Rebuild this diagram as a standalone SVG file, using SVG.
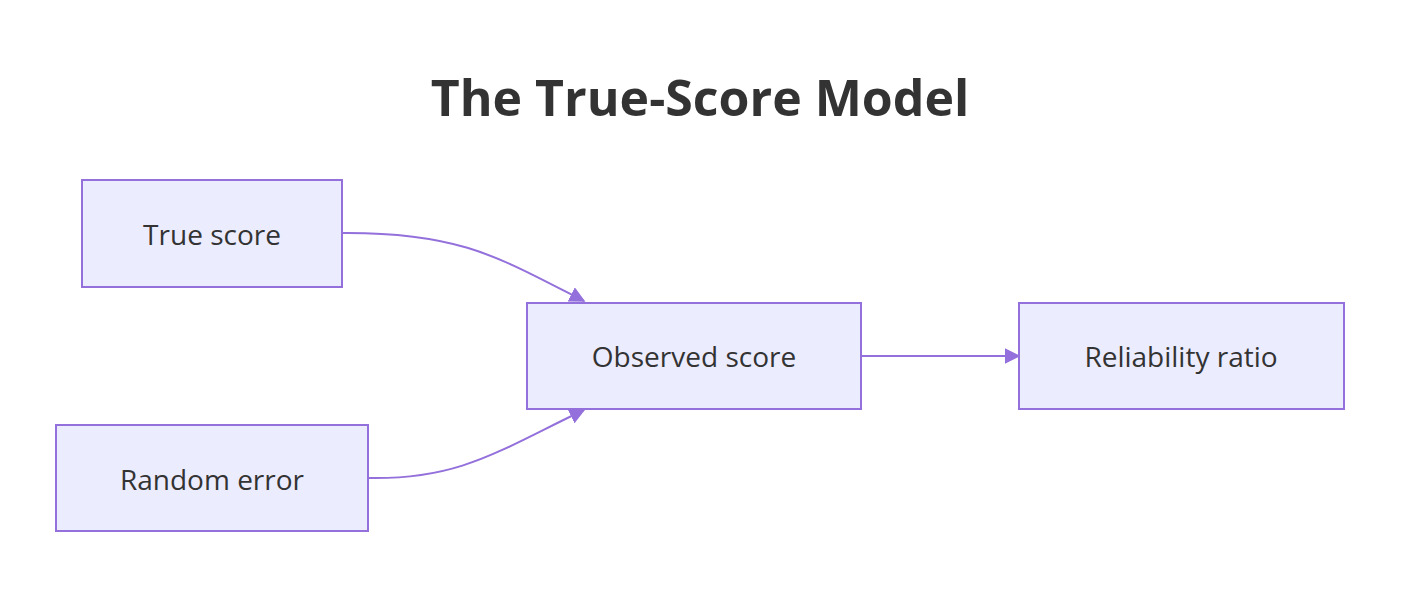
<svg xmlns="http://www.w3.org/2000/svg" width="1416" height="594" viewBox="0 0 1416 594">
<style>
.n rect{fill:#ECECFF;stroke:#9370DB;stroke-width:2}
.n text{font-family:"Open Sans","Liberation Sans",sans-serif;font-size:28px;fill:#333;text-anchor:middle;dominant-baseline:central}
.e path{fill:none;stroke:#9370DB;stroke-width:2}
</style>
<defs><marker id="a" viewBox="0 0 10 10" refX="9" refY="5" markerWidth="8" markerHeight="8" orient="auto"><path d="M0,0L10,5L0,10z" fill="#9370DB"/></marker></defs>
<rect width="1416" height="594" fill="#fff"/>
<text x="700" y="97" font-family="Open Sans,Liberation Sans,sans-serif" font-size="50" font-weight="bold" fill="#333" text-anchor="middle" dominant-baseline="central">The True-Score Model</text>
<g class="e">
<path d="M342,233 C460,232 500,258 584,301" marker-end="url(#a)"/>
<path d="M368,478 C460,480 500,450 584,410" marker-end="url(#a)"/>
<path d="M861,356 L1019,356" marker-end="url(#a)"/>
</g>
<g id="true" class="n"><rect x="82" y="180" width="260" height="107"/><text x="212" y="234">True score</text></g>
<g id="err" class="n"><rect x="56" y="425" width="312" height="106"/><text x="212" y="479">Random error</text></g>
<g id="obs" class="n"><rect x="527" y="303" width="334" height="106"/><text x="694" y="356">Observed score</text></g>
<g id="rel" class="n"><rect x="1019" y="303" width="325" height="106"/><text x="1181" y="356">Reliability ratio</text></g>
</svg>
